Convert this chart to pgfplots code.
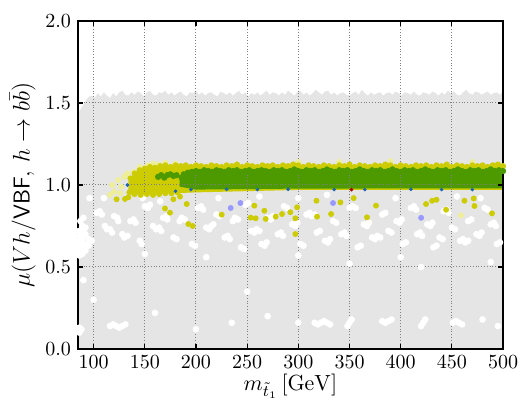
\documentclass[border=0pt]{standalone}
\usepackage{pgfplots}
\pgfplotsset{compat=1.18}
\definecolor{bggrey}{RGB}{229,229,229}
\definecolor{yel}{RGB}{204,204,0}
\definecolor{paleyel}{RGB}{238,238,153}
\definecolor{grn}{RGB}{76,153,0}
\definecolor{blu}{RGB}{31,100,180}
\definecolor{lav}{RGB}{153,153,255}
\pgfplotsset{dots/.style={only marks, mark=*, mark size=#1}}
\begin{document}
\begin{tikzpicture}
\begin{axis}[name=ax,
  scale only axis, width=212.5pt, height=164pt,
  xmin=84.7, xmax=500, ymin=0, ymax=2,
  xtick={100,150,...,500}, ytick={0,0.5,1,1.5,2},
  yticklabel style={/pgf/number format/.cd,fixed,fixed zerofill,precision=1},
  grid=major, major grid style={densely dotted, gray, line width=0.5pt},
  tick align=inside, major tick length=2.5pt,
  tick style={black, line width=0.6pt},
  axis line style={line width=1pt},
  axis on top=true,
  xlabel={\fontsize{11}{13}\selectfont $m_{\tilde t_1}\,[\mathrm{GeV}]$},
  ylabel={\fontsize{11.5}{13}\selectfont $\mu(Vh/\textsf{VBF},\, h\to b\bar b)$},
  xlabel style={yshift=4.5pt},
  ylabel style={yshift=-2pt},
]
% grey background region (upper edge follows the outermost grey points)
\addplot[fill=bggrey, draw=none] coordinates {(85.5,0)
(85.5,1.43) (86,1.45) (89,1.48) (92,1.51) (95,1.535) (98,1.545) (101,1.53) (104,1.56) (107,1.54) (110,1.565) (113,1.545)
(116,1.53) (119,1.56) (122,1.54) (125,1.565) (128,1.575) (131,1.55) (134,1.545) (137,1.565) (140,1.55) (143,1.57)
(146,1.56) (149,1.54) (152,1.565) (155,1.575) (158,1.55) (161,1.545) (164,1.565) (167,1.56) (170,1.575) (173,1.55)
(176,1.565) (179,1.545) (182,1.56) (185,1.57) (188,1.55) (191,1.54) (194,1.565) (197,1.56) (200,1.575) (203,1.55)
(206,1.565) (209,1.545) (212,1.56) (215,1.565) (218,1.55) (221,1.54) (224,1.57) (227,1.56) (230,1.55) (233,1.565)
(236,1.545) (239,1.56) (242,1.575) (245,1.55) (248,1.565) (251,1.54) (254,1.56) (257,1.55) (260,1.565) (263,1.545)
(266,1.56) (269,1.575) (272,1.55) (275,1.565) (278,1.56) (281,1.545) (284,1.565) (287,1.55) (290,1.575) (293,1.56)
(296,1.545) (299,1.565) (302,1.575) (305,1.55) (308,1.565) (311,1.545) (314,1.56) (317,1.58) (320,1.565) (323,1.55)
(326,1.57) (329,1.575) (332,1.55) (335,1.565) (338,1.545) (341,1.56) (344,1.565) (347,1.55) (350,1.545) (353,1.56)
(356,1.57) (359,1.55) (362,1.58) (365,1.56) (368,1.545) (371,1.565) (374,1.55) (377,1.56) (380,1.565) (383,1.545)
(386,1.56) (389,1.565) (392,1.55) (395,1.57) (398,1.56) (401,1.545) (404,1.565) (407,1.56) (410,1.55) (413,1.57)
(416,1.55) (419,1.545) (422,1.565) (425,1.56) (428,1.55) (431,1.57) (434,1.56) (437,1.545) (440,1.565) (443,1.55)
(446,1.575) (449,1.56) (452,1.57) (455,1.55) (458,1.545) (461,1.565) (464,1.58) (467,1.56) (470,1.55) (473,1.57)
(476,1.565) (479,1.55) (482,1.56) (485,1.57) (488,1.55) (491,1.56) (494,1.565) (497,1.55) (500,1.57)
(500,0)} -- cycle;
% white gaps in the grey region
\addplot[dots=1.45pt, mark options={draw=white, fill=white}] coordinates {
(86,0.57) (86,0.60) (86,0.63) (86,0.66) (86,0.69) (86,0.72) (89,0.58) (89,0.62) (89,0.65) (89,0.68) (89,0.72) (89,0.75)
(92,0.60) (92,0.64) (92,0.70) (92,0.74) (95,0.63) (95,0.67) (98,0.66) (87,0.78) (90,0.80)
(103,0.83) (106,0.84) (108,0.82) (111,0.75) (113,0.73) (116,0.73) (118,0.71) (120,0.81) (123,0.80) (124,0.78)
(128,0.70) (130,0.68) (133,0.69) (136,0.78) (139,0.79) (141,0.77) (145,0.66) (147,0.64) (150,0.87) (153,0.86) (155,0.88)
(158,0.75) (161,0.73) (164,0.74) (166,0.72) (168,0.80) (171,0.81) (172,0.79) (178,0.68) (181,0.67)
(184,0.78) (186,0.80) (189,0.79) (196,0.64) (199,0.63) (202,0.86) (205,0.87) (207,0.85)
(210,0.74) (213,0.73) (215,0.75) (217,0.76) (220,0.82) (223,0.81) (228,0.68) (231,0.69) (233,0.67)
(236,0.78) (238,0.80) (241,0.79) (244,0.62) (247,0.61) (248,0.88) (251,0.89)
(254,0.72) (257,0.71) (259,0.73) (262,0.72) (264,0.64) (267,0.63) (269,0.65) (270,0.80) (273,0.79) (275,0.81)
(280,0.70) (283,0.71) (285,0.69) (286,0.87) (289,0.86) (294,0.76) (297,0.75) (299,0.77) (302,0.64) (305,0.63)
(308,0.82) (311,0.83) (313,0.81) (316,0.82) (318,0.71) (321,0.72) (326,0.66) (329,0.65) (331,0.67)
(334,0.78) (337,0.77) (342,0.70) (345,0.71) (347,0.69) (350,0.86) (353,0.87) (356,0.86) (358,0.62) (361,0.63)
(364,0.76) (367,0.75) (369,0.77) (372,0.68) (375,0.67) (377,0.69) (380,0.68) (382,0.82) (385,0.83)
(388,0.72) (391,0.71) (396,0.78) (399,0.77) (401,0.79) (402,0.64) (405,0.65) (410,0.86) (413,0.87) (415,0.85)
(416,0.70) (419,0.71) (421,0.69) (426,0.76) (429,0.75) (431,0.77) (432,0.62) (435,0.63) (438,0.68) (441,0.67)
(442,0.84) (445,0.85) (447,0.83) (450,0.74) (453,0.73) (458,0.66) (461,0.67) (463,0.65) (466,0.66)
(466,0.78) (469,0.79) (474,0.70) (477,0.69) (479,0.71) (482,0.86) (485,0.85) (488,0.76) (491,0.77) (493,0.75)
(494,0.64) (497,0.65)
(96,0.92) (110,0.92) (148,0.92) (165,0.90) (222,0.92) (262,0.93) (300,0.92) (328,0.94) (395,0.92) (455,0.93) (478,0.92)
(116,0.14) (119,0.15) (122,0.14) (125,0.13) (128,0.14) (131,0.15) (86,0.10) (86,0.13) (88,0.12)
(316,0.16) (319,0.15) (322,0.16) (325,0.17) (328,0.16) (331,0.15) (348,0.14) (350,0.16) (352,0.18)
(382,0.17) (385,0.16) (388,0.17) (391,0.18) (420,0.14) (422,0.16) (424,0.18)
(451,0.16) (454,0.17) (457,0.16) (460,0.15)
(160,0.22) (200,0.12) (235,0.16) (270,0.20) (300,0.16) (480,0.18) (495,0.14) (90,0.42) (100,0.30)
(250,0.35) (350,0.52) (420,0.50) (488,0.53) (150,0.58) (210,0.56) (300,0.57) (400,0.56)};
% pale yellow fringe
\addplot[dots=1.3pt, mark options={draw=paleyel, fill=paleyel}] coordinates {
(116,0.94) (120,0.96) (118,1.00) (124,1.03) (127,0.99) (130,1.05) (126,0.95) (133,1.07) (139,1.08) (145,1.11)
(153,1.12) (158,1.13) (163,1.125) (170,1.135) (180,1.13) (300,1.14) (340,1.14) (390,1.145) (470,1.14)};
% yellow band
\addplot[fill=yel, draw=none] coordinates {(134,0.96) (134,1.02) (137,1.05) (142,1.08) (150,1.10) (165,1.11) (185,1.115) (500,1.115) (500,0.97) (300,0.97) (200,0.955) (160,0.945) (140,0.945)} -- cycle;
\addplot[dots=1.3pt, mark options={draw=yel, fill=yel}] coordinates {
(136,1.04) (140,1.07) (145,1.09) (150,1.10) (155,1.11) (160,1.105) (165,1.115) (170,1.12) (175,1.11) (180,1.12)
(185,1.115) (190,1.12) (195,1.11) (200,1.12) (205,1.115) (210,1.11) (215,1.12) (220,1.115) (225,1.11) (230,1.12)
(235,1.115) (240,1.125) (245,1.11) (250,1.12) (255,1.115) (260,1.11) (265,1.12) (270,1.115) (275,1.12) (280,1.11)
(285,1.12) (290,1.115) (295,1.125) (300,1.12) (305,1.11) (310,1.12) (315,1.115) (320,1.11) (325,1.12) (330,1.115)
(335,1.11) (340,1.12) (345,1.115) (350,1.125) (355,1.11) (360,1.12) (365,1.115) (370,1.11) (375,1.12) (380,1.115)
(385,1.125) (390,1.12) (395,1.11) (400,1.12) (405,1.115) (410,1.11) (415,1.12) (420,1.115) (425,1.12) (430,1.11)
(435,1.12) (440,1.115) (445,1.125) (450,1.11) (455,1.12) (460,1.115) (465,1.11) (470,1.12) (475,1.115) (480,1.12)
(485,1.11) (490,1.12) (495,1.125) (500,1.115)
(135,0.955) (140,0.945) (146,0.94) (152,0.945) (158,0.94) (164,0.945) (170,0.95) (176,0.95) (182,0.955)};
% blue points at the lower edge of the band (mostly hidden under the green)
\addplot[dots=0.7pt, mark options={draw=blu, fill=blu}] coordinates {
(133,1.0) (180,0.962) (195,0.972) (230,0.974) (260,0.972) (290,0.974) (335,0.972) (365,0.972) (410,0.974) (440,0.972) (470,0.972)};
\addplot[dots=0.7pt, mark options={draw=red!70!black, fill=red!70!black}] coordinates {(352,0.972)};
% green band
\addplot[fill=grn, draw=none] coordinates {(184,0.99) (184,1.04) (190,1.07) (200,1.08) (300,1.085) (500,1.09) (500,0.98) (300,0.978) (200,0.972)} -- cycle;
\addplot[dots=1.35pt, mark options={draw=grn, fill=grn}] coordinates {
(163,1.05) (166,1.06) (169,1.045) (172,1.06) (175,1.065) (178,1.055) (181,1.06) (186,1.045) (188,1.065)
(192,1.075) (196,1.08) (200,1.085) (204,1.08) (208,1.09) (212,1.085) (216,1.08) (220,1.09) (224,1.085) (228,1.08)
(232,1.09) (236,1.085) (240,1.09) (244,1.08) (248,1.085) (252,1.09) (256,1.08) (260,1.085) (264,1.09) (268,1.085)
(272,1.08) (276,1.09) (280,1.085) (284,1.09) (288,1.08) (292,1.085) (296,1.095) (300,1.085) (304,1.08) (308,1.09)
(312,1.085) (316,1.09) (320,1.08) (324,1.085) (328,1.095) (332,1.085) (336,1.08) (340,1.09) (344,1.085) (348,1.09)
(352,1.08) (356,1.085) (360,1.095) (364,1.085) (368,1.08) (372,1.09) (376,1.085) (380,1.09) (384,1.08) (388,1.085)
(392,1.095) (396,1.085) (400,1.08) (404,1.09) (408,1.085) (412,1.09) (416,1.08) (420,1.085) (424,1.095) (428,1.085)
(432,1.08) (436,1.09) (440,1.085) (444,1.09) (448,1.08) (452,1.085) (456,1.095) (460,1.085) (464,1.08) (468,1.09)
(472,1.085) (476,1.09) (480,1.08) (484,1.085) (488,1.095) (492,1.085) (496,1.09) (500,1.085)};
% scattered yellow points
\addplot[dots=1.25pt, mark options={draw=yel, fill=yel}] coordinates {
(122.4,0.913) (130.6,0.915) (133.9,0.925) (169.7,0.857) (174.6,0.831) (177.9,0.913) (184.4,0.929) (190.9,0.884)
(192.5,0.762) (196.7,0.75) (225.1,0.819) (253.4,0.801) (257,0.874) (258.3,0.797) (266.8,0.843) (268.1,0.793)
(277.9,0.807) (284.1,0.823) (292.2,0.834) (297.1,0.797) (298.8,0.864) (297.1,0.701) (317.7,0.904) (318.3,0.807)
(332,0.823) (341.1,0.894) (354.1,0.92) (367.1,0.803) (375.9,0.874) (424.8,0.884) (430.7,0.904) (435,0.91)
(444.4,0.849) (462.3,0.904) (471.4,0.918) (472.1,0.872) (489.3,0.827)};
\addplot[dots=1.25pt, mark options={draw=lav, fill=lav}] coordinates {(233.9,0.86) (243.4,0.89) (333.9,0.89) (420,0.80)};
\addplot[dots=1.25pt, mark options={draw=paleyel, fill=paleyel}] coordinates {(458.9,0.815)};
\end{axis}
\pgfresetboundingbox
\path ([xshift=-39pt,yshift=-25pt]ax.south west) rectangle ([xshift=9pt,yshift=10.5pt]ax.north east);
\end{tikzpicture}
\end{document}
